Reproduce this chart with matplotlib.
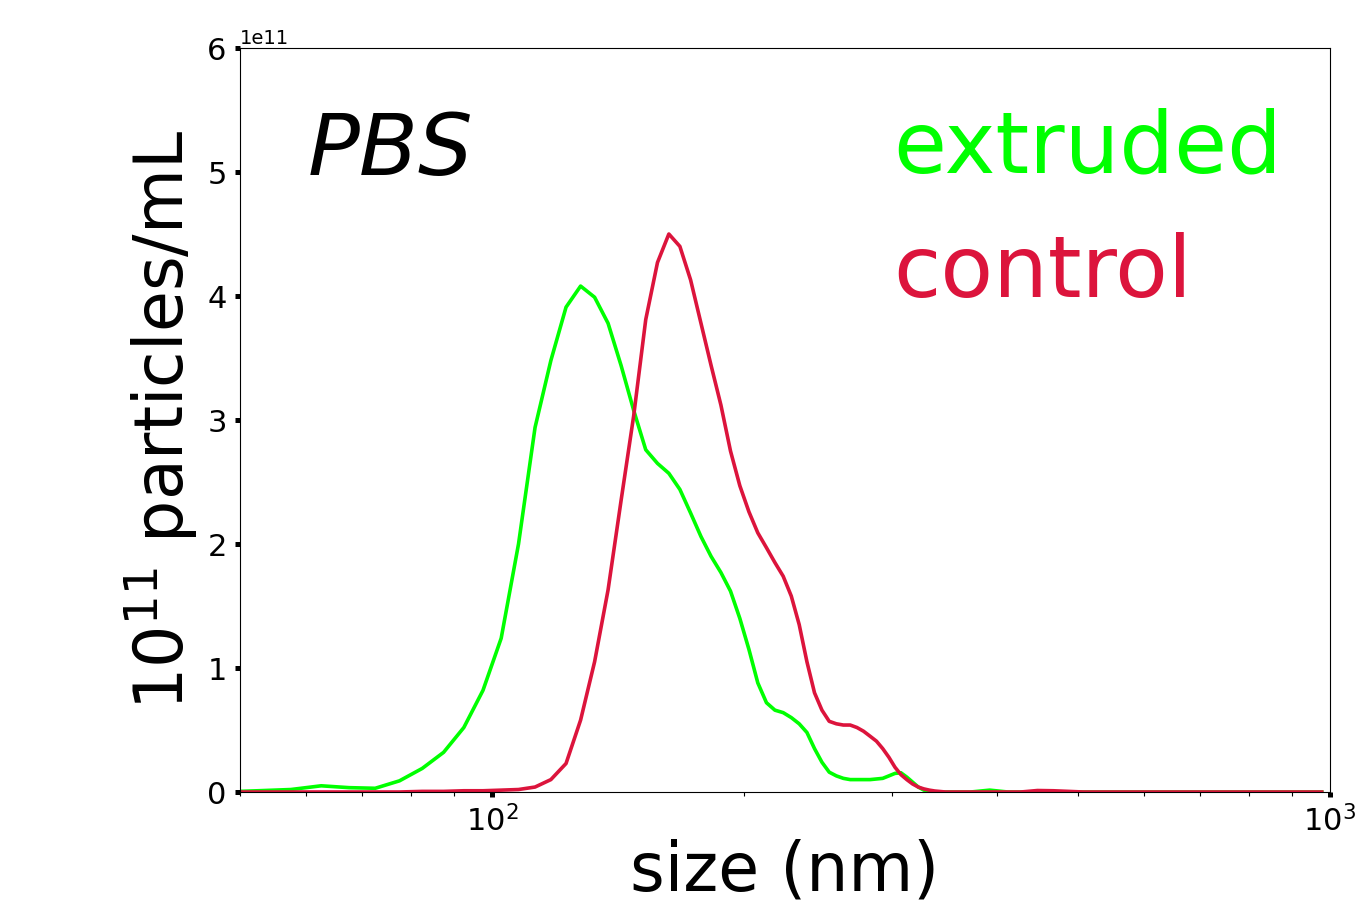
import numpy as np
import matplotlib
matplotlib.use('Agg')
import matplotlib.pyplot as plt

# bin centres (nm), 5 nm bins
size = np.arange(47.5, 355, 5)

extruded = [0.0, 0.01, 0.02, 0.05, 0.035, 0.03, 0.09, 0.19, 0.32, 0.52, 0.82,
            1.24, 2.0, 2.94, 3.48, 3.91, 4.08, 3.99, 3.78, 3.44, 3.08,
            2.76, 2.65, 2.57, 2.44, 2.25, 2.06, 1.90, 1.77, 1.62, 1.40,
            1.15, 0.88, 0.72, 0.66, 0.64, 0.60, 0.55, 0.48, 0.35, 0.24,
            0.16, 0.13, 0.11, 0.10, 0.10, 0.10, 0.10, 0.105, 0.11, 0.13,
            0.15, 0.155, 0.12, 0.08, 0.04, 0.015, 0.005, 0.0, 0.0, 0.0, 0.0]
control = [0.0, 0.0, 0.0, 0.0, 0.0, 0.0, 0.0, 0.005, 0.005, 0.01, 0.01,
           0.015, 0.02, 0.04, 0.10, 0.23, 0.58, 1.05, 1.63, 2.35, 3.03,
           3.81, 4.27, 4.50, 4.40, 4.13, 3.78, 3.44, 3.12, 2.75, 2.47,
           2.26, 2.09, 1.97, 1.85, 1.74, 1.58, 1.35, 1.05, 0.80, 0.66,
           0.57, 0.55, 0.54, 0.54, 0.52, 0.49, 0.45, 0.41, 0.35, 0.28,
           0.20, 0.14, 0.10, 0.065, 0.04, 0.025, 0.015, 0.008, 0.004, 0.0, 0.0]

# sparse tails (flat near zero)
ext_tail_size = [372.5, 392.5, 412.5, 977.5]
ext_tail_val = [0.0, 0.015, 0.0, 0.0]
ctl_tail_size = [427.5, 447.5, 467.5, 487.5, 507.5, 977.5]
ctl_tail_val = [0.0, 0.012, 0.01, 0.005, 0.0, 0.0]

x_ext = np.concatenate([size, ext_tail_size])
y_ext = np.concatenate([extruded, ext_tail_val]) * 1e11
x_ctl = np.concatenate([size, ctl_tail_size])
y_ctl = np.concatenate([control, ctl_tail_val]) * 1e11

fig = plt.figure(figsize=(13.55, 9.18), dpi=100)
ax = fig.add_axes([240 / 1355, 126 / 918, 1090 / 1355, 744 / 918])

ax.plot(x_ext, y_ext, color='lime', lw=2.6)
ax.plot(x_ctl, y_ctl, color='crimson', lw=2.6)

ax.set_xscale('log')
ax.set_xlim(50, 1000)
ax.set_ylim(0, 6e11)
ax.set_yticks(np.arange(0, 7) * 1e11)

ax.tick_params(which='major', length=3.6, width=3.6, labelsize=22, pad=6)
ax.tick_params(which='minor', length=3, width=0.8)
ax.yaxis.get_offset_text().set_fontsize(14)

ax.set_xlabel('size (nm)', fontsize=48)
ax.set_ylabel('10$^{11}$ particles/mL', fontsize=48)
ax.xaxis.set_label_coords(0.5, -0.063)
ax.yaxis.set_label_coords(-0.037, 0.5)

ax.text(0.062, 0.829, 'PBS', transform=ax.transAxes, fontsize=62, style='italic')
ax.text(0.599, 0.833, 'extruded', transform=ax.transAxes, fontsize=62, color='lime')
ax.text(0.599, 0.665, 'control', transform=ax.transAxes, fontsize=62, color='crimson')

fig.savefig('out.png', dpi=100)
